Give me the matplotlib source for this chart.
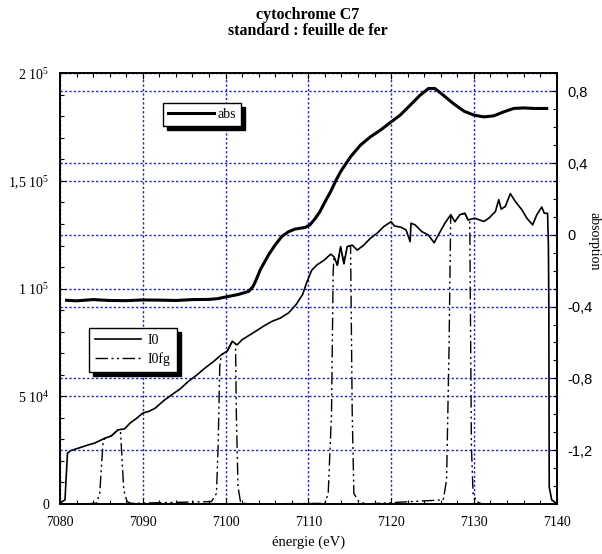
import matplotlib
matplotlib.use('Agg')
import matplotlib.pyplot as plt
from matplotlib.ticker import MultipleLocator, FixedLocator, FixedFormatter

plt.rcParams['font.family'] = ['Liberation Serif', 'DejaVu Serif']
plt.rcParams['mathtext.fontset'] = 'custom'
plt.rcParams['mathtext.rm'] = 'Liberation Serif'
plt.rcParams['mathtext.it'] = 'Liberation Serif:italic'
plt.rcParams['mathtext.bf'] = 'Liberation Serif:bold'

# Incident beam intensity I0 (counts) versus energy (eV)
energy_i0 = [7080.0, 7080.6, 7080.9, 7081.3, 7082.2, 7083.4, 7084.2, 7085.4, 7086.2,
             7087.0, 7087.8, 7088.5, 7089.2, 7090.0, 7090.8, 7091.5, 7092.5, 7093.5,
             7094.5, 7095.5, 7096.5, 7097.5, 7098.5, 7099.5, 7100.2, 7100.8, 7101.4,
             7102.0, 7102.8, 7103.6, 7104.6, 7105.6, 7106.6, 7107.6, 7108.5, 7109.3,
             7109.8, 7110.4, 7111.0, 7111.9, 7112.7, 7113.1, 7113.5, 7113.9, 7114.3,
             7114.7, 7115.3, 7115.9, 7116.7, 7117.5, 7118.3, 7119.1, 7120.0, 7120.4,
             7121.2, 7121.8, 7122.3, 7122.4, 7122.9, 7123.7, 7124.5, 7125.2, 7125.7,
             7126.5, 7127.2, 7127.7, 7128.3, 7128.9, 7129.3, 7130.1, 7131.2, 7131.8,
             7132.6, 7133.0, 7133.3, 7133.8, 7134.4, 7135.0, 7135.8, 7136.4, 7137.1,
             7137.6, 7138.2, 7138.5, 7138.9, 7139.0, 7139.05, 7139.1, 7139.4, 7139.9]
i0 = [500, 1900, 23600, 24800, 25900, 27400, 28300, 30500, 31600,
      34400, 34900, 37700, 39600, 42200, 43100, 44500, 47900, 50700,
      53400, 56900, 59800, 63100, 66000, 69300, 71000, 75500, 73900,
      76300, 78200, 80100, 82600, 84800, 86300, 88700, 92500, 97200,
      102800, 108500, 110900, 113200, 116000, 114800, 110900, 119500, 111600,
      119500, 120200, 117900, 120200, 123400, 125700, 128800, 131100, 129100,
      128500, 127300, 121800, 130400, 129600, 126500, 124900, 121300, 124900,
      130400, 134300, 131100, 134300, 135000, 131900, 132700, 131200, 132700,
      135800, 141300, 136900, 138200, 144100, 140500, 136600, 132700, 129600,
      134300, 137900, 135000, 135000, 120400, 94900, 7900, 1900, 500]

# Intensity behind the iron foil reference (I0fg)
energy_i0fg = [7083.0, 7084.4, 7084.8, 7085.0, 7085.2, 7085.4, 7086.2, 7087.0, 7087.3,
               7087.5, 7087.7, 7088.1, 7088.6, 7098.3, 7098.9, 7099.1, 7099.3, 7099.5,
               7100.2, 7100.8, 7101.2, 7101.3, 7101.5, 7101.8, 7102.5, 7112.0, 7112.4,
               7112.8, 7113.0, 7113.1, 7113.5, 7113.9, 7114.3, 7114.7, 7115.1, 7115.3,
               7115.5, 7116.1, 7117.0, 7126.3, 7126.7, 7127.0, 7127.2, 7127.7, 7128.3,
               7128.9, 7129.3, 7129.5, 7129.7, 7129.9, 7130.3, 7131.0]
i0fg = [0, 400, 4900, 17300, 28200, 30500, 31600, 34400, 34000,
        20500, 6500, 1100, 300, 1100, 4900, 26700, 64000, 69300,
        71000, 75500, 74900, 42200, 8000, 1100, 0, 300, 4900,
        42200, 108000, 114800, 110900, 119500, 111600, 119500, 120000, 42200,
        4900, 1100, 0, 1900, 11200, 73000, 134300, 131100, 134300,
        135000, 131900, 132500, 26700, 4900, 1100, 0]

# Normalised absorption (right axis)
energy_abs = [7080.8, 7082.0, 7084.0, 7086.0, 7088.0, 7090.0, 7092.0, 7094.0, 7096.0,
              7098.0, 7099.0, 7100.3, 7101.5, 7102.8, 7103.3, 7103.6, 7104.2, 7105.2,
              7106.0, 7106.8, 7107.6, 7108.4, 7109.6, 7110.2, 7110.8, 7111.4, 7112.0,
              7112.7, 7113.3, 7113.9, 7115.1, 7116.3, 7117.5, 7118.7, 7120.0, 7121.1,
              7122.3, 7123.5, 7124.5, 7125.3, 7126.3, 7127.5, 7128.8, 7130.0, 7131.2,
              7132.4, 7133.6, 7134.8, 7136.0, 7137.3, 7138.8]
absorption = [-0.365, -0.368, -0.361, -0.366, -0.367, -0.363, -0.364, -0.366, -0.361,
              -0.360, -0.356, -0.344, -0.333, -0.315, -0.289, -0.261, -0.194, -0.111,
              -0.056, -0.009, 0.017, 0.032, 0.041, 0.056, 0.089, 0.129, 0.183,
              0.241, 0.300, 0.352, 0.435, 0.500, 0.546, 0.583, 0.629, 0.667,
              0.722, 0.778, 0.815, 0.815, 0.778, 0.732, 0.689, 0.667, 0.657,
              0.663, 0.685, 0.704, 0.707, 0.704, 0.704]

x_ticks = [7080, 7090, 7100, 7110, 7120, 7130, 7140]
left_ticks = [0, 5e4, 1e5, 1.5e5, 2e5]
left_labels = ['0', '5 10$^{4}$', '1 10$^{5}$', '1,5 10$^{5}$', '2 10$^{5}$']
right_ticks = [-1.2, -0.8, -0.4, 0.0, 0.4, 0.8]
right_labels = ['-1,2', '-0,8', '-0,4', '0', '0,4', '0,8']

grid_kw = dict(color='#1c1ccf', linestyle=(0, (1.6, 1.6)), linewidth=1.0)

fig = plt.figure(figsize=(6.02, 5.54), dpi=100)
ax = fig.add_axes([0.0997, 0.0903, 0.8250, 0.7774])
ax2 = ax.twinx()

ax.plot(energy_i0, i0, color='black', lw=1.2, label='I0')
ax.plot(energy_i0fg, i0fg, color='black', lw=1.0,
        linestyle=(0, (9, 2.5, 1.5, 2.5, 1.5, 2.5)), label='I0fg')
ax2.plot(energy_abs, absorption, color='black', lw=2.2, label='abs')

ax.set_xlim(7080, 7140)
ax.set_ylim(0, 2e5)
ax2.set_ylim(-1.5, 0.9)

ax.xaxis.set_major_locator(FixedLocator(x_ticks))
ax.xaxis.set_minor_locator(MultipleLocator(2))
ax.yaxis.set_major_locator(FixedLocator(left_ticks))
ax.yaxis.set_major_formatter(FixedFormatter(left_labels))
ax.yaxis.set_minor_locator(MultipleLocator(1e4))
ax2.yaxis.set_major_locator(FixedLocator(right_ticks))
ax2.yaxis.set_major_formatter(FixedFormatter(right_labels))
ax2.yaxis.set_minor_locator(MultipleLocator(0.1))

ax.grid(True, which='major', axis='both', **grid_kw)
ax2.grid(True, which='major', axis='y', **grid_kw)

ax.tick_params(axis='x', which='both', direction='in', top=True, bottom=True,
               labelsize=10, pad=9)
ax.tick_params(axis='y', which='both', direction='in', left=True, right=False,
               labelsize=10, pad=8)
ax.tick_params(which='major', length=4, width=0.8)
ax.tick_params(which='minor', length=3, width=0.8)
ax2.tick_params(axis='y', which='both', direction='in', right=True, left=False,
                labelsize=10.5, pad=8)
ax2.tick_params(which='major', length=4, width=0.8)
ax2.tick_params(which='minor', length=3, width=0.8)
for lab in ax2.get_yticklabels():
    lab.set_family(['Liberation Sans', 'DejaVu Sans'])

for a in (ax, ax2):
    for sp in a.spines.values():
        sp.set_linewidth(1.2)
        sp.set_color('black')

ax.set_xlabel('énergie (eV)', fontsize=10.5, labelpad=4)

fig.text(0.5116, 0.988, 'cytochrome C7\nstandard : feuille de fer',
         ha='center', va='top', fontsize=11.5, fontweight='bold', linespacing=1.05)
fig.text(0.998, 0.565, 'absorption', rotation=270, ha='right', va='center',
         fontsize=10)

shadow = {'color': 'black', 'alpha': 1, 'ox': 3, 'oy': -3}
leg1 = ax2.legend(loc='upper left', bbox_to_anchor=(0.207, 0.931), borderaxespad=0,
                  frameon=True, fancybox=False, shadow=shadow, fontsize=10,
                  handlelength=3.3, handletextpad=0.3, borderpad=0.35,
                  edgecolor='black', framealpha=1)
leg1.get_frame().set_linewidth(1.0)

leg2 = ax.legend(loc='upper left', bbox_to_anchor=(0.058, 0.409), borderaxespad=0,
                 frameon=True, fancybox=False, shadow=shadow, fontsize=10,
                 handlelength=3.3, handletextpad=0.5, borderpad=0.45,
                 labelspacing=0.35, edgecolor='black', framealpha=1)
leg2.get_frame().set_linewidth(1.0)

fig.savefig('out.png', dpi=100, facecolor='white')
